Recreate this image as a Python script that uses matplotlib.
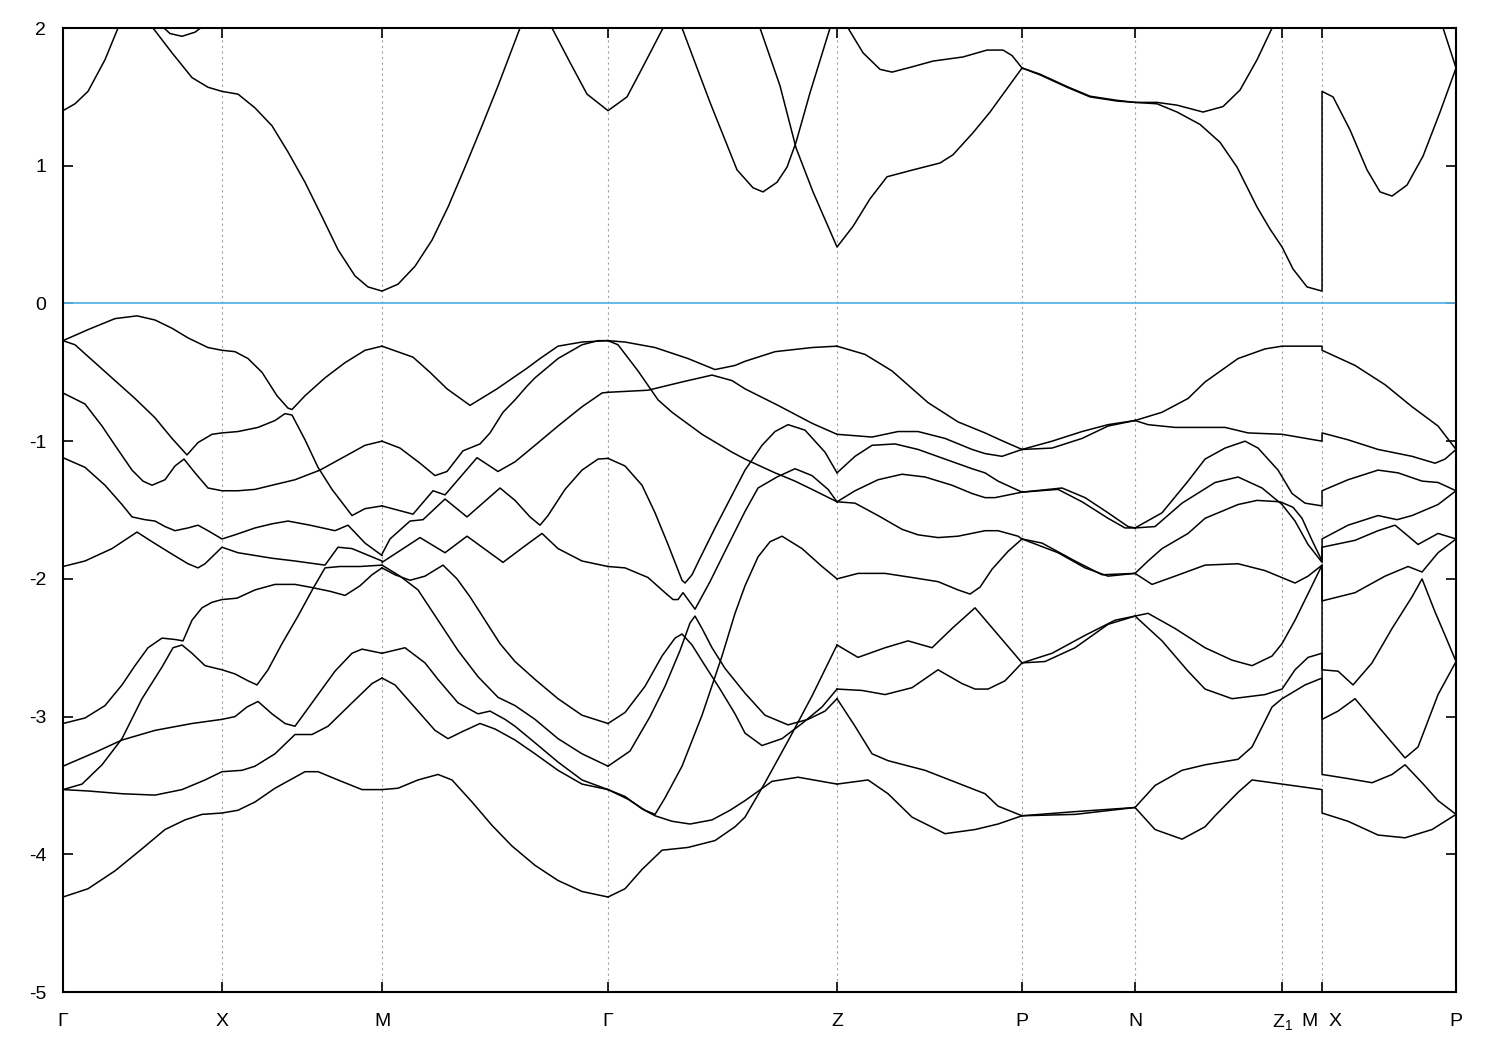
import matplotlib.pyplot as plt

plt.rcParams['font.family'] = ['Liberation Sans', 'DejaVu Sans']
plt.rcParams['mathtext.fontset'] = 'custom'
plt.rcParams['mathtext.rm'] = 'Liberation Sans'
plt.rcParams['axes.unicode_minus'] = False

# high-symmetry points along the k-path (path length, arb. units)
kpt_pos = [0, 159, 319, 545, 774, 959, 1072, 1219, 1259, 1393]
kpt_lab = ['Γ', 'X', 'M', 'Γ', 'Z', 'P', 'N', r'Z$_\mathrm{1}$', 'M  X', 'P']

# conduction bands
cond_k = [
    [0, 12, 25, 42, 55, 61],
    [85, 90, 109, 129, 145, 159, 175, 192, 209, 225, 242, 259, 275, 292, 305, 319, 335, 352, 369, 385, 402, 419, 435, 457, 463],
    [95, 107, 119, 132, 145],
    [485, 489, 507, 524, 545, 564, 580, 600, 604],
    [616, 619, 647, 674, 690, 700, 714, 724, 733, 747, 767, 770],
    [694, 697, 717, 733, 750, 774, 790, 807, 824, 850, 877, 890, 910, 927, 940, 959],
    [783, 785, 800, 817, 829, 850, 870, 900, 924, 940, 949, 959],
    [959, 977, 1004, 1027, 1054, 1072, 1094, 1114, 1140, 1160, 1177, 1194, 1209, 1212],
    [959, 977, 1004, 1027, 1054, 1072, 1094, 1114, 1137, 1157, 1174, 1194, 1207, 1219, 1230, 1244, 1259,
     1259, 1270, 1287, 1304, 1317, 1329, 1344, 1360, 1377, 1393],
    [1377, 1380, 1393],
]
cond_e = [
    [1.40, 1.45, 1.54, 1.77, 2.0, 2.1],
    [2.1, 2.0, 1.82, 1.64, 1.57, 1.54, 1.52, 1.42, 1.29, 1.10, 0.88, 0.63, 0.39, 0.20, 0.12, 0.09, 0.14, 0.27, 0.46, 0.70, 0.99, 1.29, 1.58, 2.0, 2.1],
    [2.04, 1.96, 1.94, 1.97, 2.04],
    [2.1, 2.0, 1.75, 1.52, 1.40, 1.50, 1.72, 2.0, 2.08],
    [2.1, 2.0, 1.46, 0.97, 0.84, 0.81, 0.88, 0.99, 1.17, 1.53, 2.0, 2.08],
    [2.08, 2.0, 1.58, 1.13, 0.81, 0.41, 0.56, 0.76, 0.92, 0.97, 1.02, 1.08, 1.24, 1.39, 1.52, 1.71],
    [2.08, 2.0, 1.82, 1.70, 1.68, 1.72, 1.76, 1.79, 1.84, 1.84, 1.80, 1.71],
    [1.71, 1.66, 1.57, 1.50, 1.47, 1.46, 1.46, 1.44, 1.39, 1.43, 1.55, 1.77, 2.0, 2.08],
    [1.71, 1.665, 1.575, 1.505, 1.475, 1.46, 1.45, 1.39, 1.30, 1.17, 0.99, 0.70, 0.54, 0.41, 0.25, 0.12, 0.09,
     1.54, 1.50, 1.26, 0.97, 0.81, 0.78, 0.86, 1.07, 1.39, 1.71],
    [2.08, 2.0, 1.71],
]

# valence bands, Gamma - X - M
gxm_k = [
    [0, 25, 52, 74, 92, 109, 125, 145, 159, 172, 185, 199, 214, 225, 229, 242, 262, 282, 302, 319],
    [0, 12, 32, 52, 72, 92, 109, 124, 135, 149, 159, 175, 195, 212, 222, 229, 242, 255, 269, 289, 302, 319],
    [0, 22, 39, 52, 69, 80, 89, 102, 112, 121, 132, 145, 159, 175, 192, 209, 232, 257, 282, 302, 319],
    [0, 22, 42, 59, 69, 82, 92, 102, 112, 125, 135, 145, 159, 172, 192, 209, 225, 247, 272, 285, 302, 319],
    [0, 22, 49, 74, 89, 109, 125, 135, 142, 159, 175, 192, 209, 232, 252, 262, 275, 289, 319],
    [0, 22, 42, 59, 72, 85, 99, 112, 120, 129, 139, 149, 159, 174, 192, 212, 232, 247, 267, 282, 297, 309, 319],
    [0, 19, 39, 59, 79, 99, 110, 119, 129, 142, 159, 172, 185, 194, 205, 219, 235, 250, 262, 277, 297, 319],
    [0, 32, 59, 92, 129, 159, 172, 184, 195, 209, 222, 232, 255, 272, 289, 299, 319],
    [0, 25, 59, 92, 119, 142, 159, 179, 192, 212, 232, 249, 265, 289, 309, 319],
    [0, 25, 52, 79, 102, 122, 139, 159, 175, 192, 212, 222, 242, 255, 275, 299, 319],
]
gxm_e = [
    [-0.27, -0.19, -0.11, -0.09, -0.12, -0.18, -0.25, -0.32, -0.34, -0.35, -0.40, -0.50, -0.67, -0.76, -0.77, -0.67, -0.54, -0.43, -0.34, -0.31],
    [-0.27, -0.30, -0.43, -0.56, -0.69, -0.83, -0.98, -1.10, -1.01, -0.95, -0.94, -0.93, -0.90, -0.85, -0.80, -0.81, -0.99, -1.19, -1.35, -1.54, -1.49, -1.47],
    [-0.65, -0.73, -0.89, -1.03, -1.21, -1.29, -1.32, -1.28, -1.18, -1.13, -1.23, -1.34, -1.36, -1.36, -1.35, -1.32, -1.28, -1.21, -1.11, -1.03, -1.00],
    [-1.12, -1.19, -1.32, -1.46, -1.55, -1.57, -1.58, -1.62, -1.65, -1.63, -1.61, -1.65, -1.71, -1.68, -1.63, -1.60, -1.58, -1.61, -1.65, -1.61, -1.74, -1.83],
    [-1.91, -1.87, -1.78, -1.66, -1.73, -1.82, -1.89, -1.92, -1.89, -1.77, -1.81, -1.83, -1.85, -1.87, -1.89, -1.90, -1.77, -1.78, -1.87],
    [-3.05, -3.01, -2.92, -2.77, -2.63, -2.50, -2.43, -2.44, -2.45, -2.30, -2.21, -2.17, -2.15, -2.14, -2.08, -2.04, -2.04, -2.06, -2.09, -2.12, -2.05, -1.97, -1.92],
    [-3.53, -3.49, -3.35, -3.16, -2.87, -2.64, -2.50, -2.48, -2.54, -2.63, -2.66, -2.69, -2.74, -2.77, -2.66, -2.47, -2.27, -2.07, -1.92, -1.91, -1.91, -1.90],
    [-3.36, -3.26, -3.17, -3.10, -3.05, -3.02, -3.0, -2.93, -2.89, -2.98, -3.05, -3.07, -2.84, -2.67, -2.54, -2.51, -2.54],
    [-3.53, -3.54, -3.56, -3.57, -3.53, -3.46, -3.40, -3.39, -3.36, -3.27, -3.13, -3.13, -3.07, -2.90, -2.76, -2.72],
    [-4.31, -4.25, -4.12, -3.96, -3.82, -3.75, -3.71, -3.70, -3.68, -3.62, -3.52, -3.48, -3.40, -3.40, -3.46, -3.53, -3.53],
]

# valence bands, M - Gamma
mg_k = [
    [319, 350, 367, 384, 407, 434, 440, 464, 477, 495, 519, 545],
    [319, 337, 357, 372, 384, 400, 417, 427, 440, 452, 464, 472, 495, 519, 535, 545],
    [319, 350, 370, 382, 414, 435, 452, 472, 495, 519, 539, 545],
    [319, 327, 347, 360, 382, 404, 437, 452, 467, 477, 485, 502, 519, 535, 545],
    [319, 357, 382, 404, 440, 462, 479, 495, 519, 545],
    [319, 332, 347, 362, 380, 394, 407, 422, 437, 452, 472, 495, 519, 545],
    [319, 337, 355, 375, 395, 415, 435, 452, 472, 495, 519, 545],
    [319, 342, 362, 375, 395, 415, 427, 442, 452, 472, 495, 519, 545],
    [319, 332, 355, 372, 385, 399, 417, 432, 452, 472, 495, 519, 545],
    [319, 335, 355, 375, 389, 409, 429, 449, 472, 495, 519, 545],
]
mg_e = [
    [-0.31, -0.39, -0.50, -0.62, -0.74, -0.62, -0.59, -0.47, -0.40, -0.31, -0.28, -0.27],
    [-1.00, -1.05, -1.16, -1.25, -1.22, -1.07, -1.02, -0.94, -0.79, -0.70, -0.60, -0.54, -0.40, -0.30, -0.27, -0.27],
    [-1.47, -1.53, -1.36, -1.39, -1.12, -1.22, -1.15, -1.03, -0.89, -0.75, -0.65, -0.645],
    [-1.82, -1.71, -1.58, -1.57, -1.42, -1.55, -1.34, -1.43, -1.55, -1.61, -1.54, -1.35, -1.21, -1.13, -1.125],
    [-1.88, -1.70, -1.81, -1.69, -1.88, -1.76, -1.67, -1.78, -1.87, -1.91],
    [-1.92, -1.97, -2.01, -1.98, -1.90, -2.0, -2.13, -2.30, -2.47, -2.60, -2.73, -2.87, -2.99, -3.05],
    [-1.90, -1.98, -2.08, -2.30, -2.52, -2.71, -2.86, -2.92, -3.02, -3.16, -3.27, -3.36],
    [-2.54, -2.50, -2.61, -2.73, -2.90, -2.98, -2.96, -3.02, -3.07, -3.19, -3.33, -3.46, -3.53],
    [-2.72, -2.77, -2.96, -3.10, -3.16, -3.11, -3.05, -3.09, -3.17, -3.27, -3.39, -3.49, -3.53],
    [-3.53, -3.52, -3.46, -3.42, -3.46, -3.62, -3.79, -3.94, -4.08, -4.19, -4.27, -4.31],
]

# valence bands, Gamma - Z
gz_k = [
    [545, 562, 592, 625, 652, 672, 682, 712, 749, 774],
    [545, 585, 619, 649, 669, 682, 715, 749, 774],
    [545, 555, 575, 595, 609, 639, 669, 682, 712, 732, 749, 774],
    [545, 562, 579, 592, 605, 619, 622, 629, 637, 652, 667, 682, 699, 712, 725, 742, 762, 774],
    [545, 562, 585, 602, 610, 615, 620, 632, 647, 662, 682, 695, 714, 732, 749, 765, 774],
    [545, 562, 582, 599, 612, 619, 629, 642, 657, 672, 682, 699, 719, 739, 759, 774],
    [545, 567, 587, 602, 617, 627, 632, 639, 649, 662, 682, 702, 725, 745, 762, 774],
    [545, 565, 582, 592, 602, 619, 639, 659, 672, 682, 695, 707, 719, 739, 759, 774],
    [545, 562, 579, 592, 609, 627, 649, 667, 682, 709, 735, 774],
    [545, 562, 579, 599, 625, 652, 672, 682, 702, 727, 749, 774],
]
gz_e = [
    [-0.27, -0.28, -0.32, -0.40, -0.48, -0.45, -0.42, -0.35, -0.32, -0.31],
    [-0.645, -0.63, -0.57, -0.52, -0.56, -0.62, -0.74, -0.87, -0.95],
    [-0.27, -0.30, -0.49, -0.70, -0.79, -0.95, -1.08, -1.13, -1.23, -1.29, -1.35, -1.44],
    [-1.125, -1.18, -1.32, -1.52, -1.75, -2.01, -2.03, -1.97, -1.85, -1.63, -1.42, -1.21, -1.03, -0.93, -0.88, -0.92, -1.08, -1.23],
    [-1.91, -1.92, -1.99, -2.10, -2.15, -2.15, -2.10, -2.22, -2.02, -1.80, -1.51, -1.34, -1.26, -1.20, -1.25, -1.35, -1.44],
    [-3.05, -2.97, -2.78, -2.56, -2.43, -2.40, -2.48, -2.63, -2.80, -2.98, -3.12, -3.21, -3.16, -3.05, -2.93, -2.80],
    [-3.36, -3.25, -3.0, -2.78, -2.52, -2.32, -2.27, -2.36, -2.50, -2.65, -2.83, -2.99, -3.06, -3.02, -2.96, -2.87],
    [-3.53, -3.60, -3.68, -3.71, -3.59, -3.36, -2.99, -2.56, -2.25, -2.05, -1.84, -1.73, -1.69, -1.78, -1.91, -2.0],
    [-3.53, -3.58, -3.67, -3.72, -3.76, -3.78, -3.75, -3.68, -3.61, -3.47, -3.44, -3.49],
    [-4.31, -4.25, -4.11, -3.97, -3.95, -3.90, -3.80, -3.73, -3.48, -3.15, -2.85, -2.48],
]

# valence bands, Z - P
zp_k = [
    [774, 802, 829, 865, 895, 922, 937, 959],
    [774, 809, 835, 855, 882, 909, 922, 939, 959],
    [774, 792, 809, 832, 855, 882, 909, 922, 935, 959],
    [774, 792, 815, 839, 862, 889, 909, 922, 932, 959],
    [774, 792, 815, 839, 855, 875, 895, 922, 935, 955, 959],
    [774, 795, 822, 849, 875, 895, 907, 917, 929, 945, 959],
    [774, 795, 822, 845, 869, 889, 912, 932, 959],
    [774, 799, 822, 849, 875, 899, 912, 925, 942, 959],
    [774, 792, 809, 825, 862, 922, 935, 959],
    [774, 805, 825, 849, 882, 912, 935, 959],
]
zp_e = [
    [-0.31, -0.37, -0.49, -0.72, -0.86, -0.94, -0.99, -1.06],
    [-0.95, -0.97, -0.93, -0.93, -0.98, -1.06, -1.09, -1.11, -1.06],
    [-1.23, -1.11, -1.03, -1.02, -1.06, -1.13, -1.20, -1.23, -1.29, -1.37],
    [-1.44, -1.36, -1.28, -1.24, -1.26, -1.32, -1.38, -1.41, -1.41, -1.37],
    [-1.44, -1.45, -1.54, -1.64, -1.68, -1.70, -1.69, -1.65, -1.65, -1.69, -1.71],
    [-2.0, -1.96, -1.96, -1.99, -2.02, -2.08, -2.11, -2.06, -1.93, -1.80, -1.71],
    [-2.48, -2.57, -2.50, -2.45, -2.50, -2.36, -2.21, -2.38, -2.61],
    [-2.80, -2.81, -2.84, -2.79, -2.66, -2.76, -2.80, -2.80, -2.74, -2.61],
    [-2.87, -3.07, -3.27, -3.32, -3.39, -3.56, -3.65, -3.72],
    [-3.49, -3.46, -3.56, -3.73, -3.85, -3.82, -3.78, -3.72],
]

# valence bands, P - N
pn_k = [
    [959, 989, 1019, 1045, 1072],
    [959, 989, 1019, 1045, 1072],
    [959, 999, 1022, 1045, 1065, 1072],
    [959, 995, 1019, 1045, 1062, 1072],
    [959, 979, 1012, 1039, 1072],
    [959, 995, 1022, 1045, 1072],
    [959, 989, 1022, 1052, 1072],
    [959, 982, 1012, 1045, 1072],
    [959, 1012, 1072],
    [959, 1012, 1072],
]
pn_e = [
    [-1.06, -1.00, -0.93, -0.88, -0.85],
    [-1.06, -1.05, -0.98, -0.89, -0.85],
    [-1.37, -1.34, -1.41, -1.52, -1.62, -1.63],
    [-1.37, -1.35, -1.44, -1.56, -1.63, -1.63],
    [-1.71, -1.74, -1.87, -1.97, -1.96],
    [-1.71, -1.81, -1.92, -1.98, -1.96],
    [-2.61, -2.54, -2.41, -2.30, -2.27],
    [-2.61, -2.60, -2.50, -2.33, -2.27],
    [-3.72, -3.69, -3.66],
    [-3.72, -3.71, -3.66],
]

# valence bands, N - Z1 - M | X - P
nxp_k = [
    [1072, 1099, 1125, 1142, 1175, 1202, 1219, 1259, 1259, 1292, 1322, 1349, 1375, 1393],
    [1072, 1085, 1112, 1152, 1162, 1185, 1219, 1259, 1259, 1285, 1315, 1349, 1372, 1382, 1393],
    [1072, 1099, 1125, 1142, 1162, 1182, 1195, 1215, 1229, 1242, 1259, 1259, 1285, 1315, 1335, 1359, 1375, 1393],
    [1072, 1092, 1119, 1152, 1175, 1199, 1219, 1232, 1245, 1259, 1259, 1285, 1315, 1334, 1349, 1375, 1393],
    [1072, 1085, 1099, 1125, 1142, 1175, 1194, 1217, 1230, 1239, 1249, 1259, 1259, 1292, 1315, 1332, 1342, 1355, 1375, 1393],
    [1072, 1089, 1112, 1142, 1175, 1202, 1232, 1245, 1259, 1259, 1292, 1322, 1345, 1359, 1375, 1393],
    [1072, 1085, 1112, 1142, 1169, 1189, 1209, 1219, 1232, 1259, 1259, 1275, 1290, 1309, 1329, 1349, 1359, 1372, 1382, 1393],
    [1072, 1099, 1125, 1142, 1169, 1202, 1219, 1232, 1245, 1259, 1259, 1275, 1292, 1315, 1342, 1355, 1375, 1393],
    [1072, 1092, 1119, 1142, 1175, 1189, 1209, 1219, 1242, 1259, 1259, 1285, 1309, 1329, 1342, 1359, 1375, 1393],
    [1072, 1092, 1119, 1142, 1152, 1175, 1189, 1219, 1259, 1259, 1285, 1315, 1342, 1369, 1393],
]
nxp_e = [
    [-0.85, -0.79, -0.69, -0.57, -0.40, -0.33, -0.31, -0.31, -0.34, -0.45, -0.59, -0.75, -0.89, -1.06],
    [-0.85, -0.88, -0.90, -0.90, -0.90, -0.94, -0.95, -1.0, -0.94, -0.99, -1.06, -1.11, -1.16, -1.13, -1.06],
    [-1.63, -1.52, -1.29, -1.13, -1.05, -1.00, -1.05, -1.21, -1.38, -1.45, -1.47, -1.36, -1.28, -1.21, -1.23, -1.29, -1.30, -1.36],
    [-1.63, -1.62, -1.45, -1.30, -1.26, -1.34, -1.46, -1.58, -1.75, -1.88, -1.71, -1.61, -1.54, -1.57, -1.54, -1.46, -1.36],
    [-1.96, -1.87, -1.78, -1.67, -1.56, -1.46, -1.43, -1.44, -1.48, -1.56, -1.72, -1.87, -1.77, -1.72, -1.65, -1.61, -1.67, -1.75, -1.67, -1.71],
    [-1.96, -2.04, -1.98, -1.90, -1.89, -1.94, -2.03, -1.98, -1.90, -2.16, -2.10, -1.98, -1.91, -1.95, -1.81, -1.71],
    [-2.27, -2.25, -2.36, -2.50, -2.59, -2.63, -2.56, -2.47, -2.30, -1.90, -2.66, -2.67, -2.77, -2.61, -2.36, -2.13, -2.0, -2.24, -2.41, -2.60],
    [-2.27, -2.45, -2.67, -2.80, -2.87, -2.84, -2.80, -2.66, -2.57, -2.54, -3.02, -2.96, -2.87, -3.07, -3.30, -3.22, -2.84, -2.60],
    [-3.66, -3.50, -3.39, -3.35, -3.31, -3.22, -2.93, -2.87, -2.77, -2.72, -3.42, -3.45, -3.48, -3.42, -3.35, -3.48, -3.61, -3.71],
    [-3.66, -3.82, -3.89, -3.80, -3.72, -3.55, -3.46, -3.49, -3.53, -3.70, -3.76, -3.86, -3.88, -3.82, -3.71],
]

fig = plt.figure(figsize=(15, 10.5), dpi=100)
ax = fig.add_axes([0.042, 0.0552, 0.9287, 0.9181])

for kp in kpt_pos[1:-1]:
    ax.axvline(kp, color='#a0a0a0', lw=0.8, ls=(0, (2, 3)), zorder=1)
ax.axhline(0, color='#56b4e9', lw=1.3, zorder=2)

all_k = cond_k + gxm_k + mg_k + gz_k + zp_k + pn_k + nxp_k
all_e = cond_e + gxm_e + mg_e + gz_e + zp_e + pn_e + nxp_e
for ks, es in zip(all_k, all_e):
    ax.plot(ks, es, color='black', lw=1.1, solid_joinstyle='round', zorder=3)

ax.set_xlim(kpt_pos[0], kpt_pos[-1])
ax.set_ylim(-5, 2)
ax.set_xticks(kpt_pos)
ax.set_xticklabels(kpt_lab)
ax.set_yticks(range(-5, 3))
ax.tick_params(direction='in', top=True, right=True, length=7, width=1.2, labelsize=14)
ax.tick_params(axis='x', pad=15)
ax.tick_params(axis='y', pad=12)
for sp in ax.spines.values():
    sp.set_linewidth(1.5)

fig.savefig('out.png', dpi=100)
